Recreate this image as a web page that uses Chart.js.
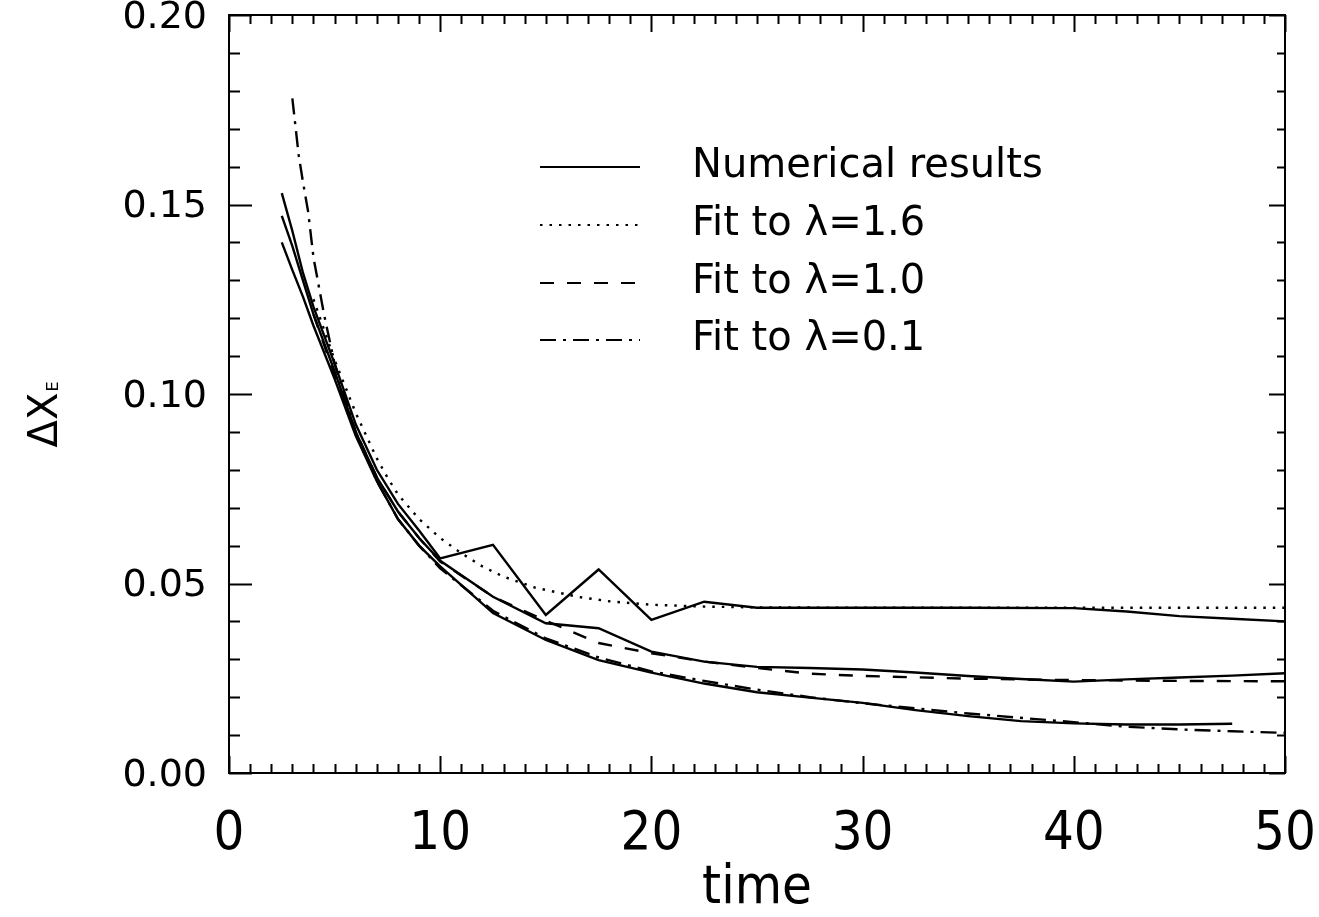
<!DOCTYPE html>
<html><head><meta charset="utf-8">
<script src="https://cdn.jsdelivr.net/npm/chart.js@4"></script>
<style>html,body{margin:0;padding:0;background:#fff}#wrap{width:1319px;height:917px}</style>
</head><body><div id="wrap"><canvas id="c" width="1319" height="917"></canvas></div>
<script>
// ---- data ----
const numTimeA = [2.5,3,3.5,4,5,6,7,8,9,10,12.5,15,17.5,20,22.5,25,30,35,40,42.5,45,47.5,50];
const numValA  = [0.153,0.143,0.132,0.123,0.108,0.092,0.080,0.071,0.064,0.0566,0.0602,0.0417,0.0537,0.0404,0.0452,0.0436,0.0436,0.0436,0.0435,0.0426,0.0414,0.0407,0.0400];

const numTimeB = [2.5,3,3.5,4,5,6,7,8,9,10,12.5,15,17.5,20,22.5,25,27.5,30,32.5,35,37.5,40,42.5,45,47.5,50];
const numValB  = [0.147,0.139,0.130,0.121,0.106,0.090,0.078,0.069,0.062,0.0560,0.0465,0.0395,0.0382,0.0320,0.0294,0.0280,0.0277,0.0273,0.0265,0.0256,0.0248,0.0241,0.0247,0.0252,0.0257,0.0263];

const numTimeC = [2.5,3,3.5,4,5,6,7,8,9,10,12.5,15,17.5,20,22.5,25,27.5,30,32.5,35,37.5,40,42.5,45,47.5];
const numValC  = [0.140,0.1327,0.1257,0.118,0.104,0.089,0.077,0.067,0.060,0.0545,0.0422,0.0351,0.0298,0.0265,0.0236,0.0213,0.0199,0.0185,0.0166,0.0150,0.0137,0.0131,0.0128,0.0128,0.0130];

const fit16Time = [4,5,6,7,7.5,8,9,10,11,12,13,14.5,16.5,18,20,22.5,25,30,40,50];
const fit16Val  = [0.125,0.109,0.095,0.083,0.078,0.0735,0.067,0.062,0.058,0.0545,0.0518,0.0489,0.0465,0.0453,0.0444,0.0439,0.0437,0.0436,0.0436,0.0436];

const fit10Time = [4,5,6,7,8,9,10,12.5,15,17.5,20,22.5,25,27.5,30,35,40,45,50];
const fit10Val  = [0.121,0.105,0.090,0.078,0.069,0.062,0.0558,0.0465,0.0402,0.0343,0.0316,0.0294,0.0277,0.0262,0.0256,0.0249,0.0245,0.0243,0.0242];

const fit01Time = [3,3.3,3.5,3.75,4,4.5,5,6,7,8,9,10,12.5,15,17.5,20,22.5,25,27.5,30,35,40,42.5,45,47.5,50];
const fit01Val  = [0.178,0.163,0.156,0.148,0.136,0.121,0.108,0.090,0.077,0.067,0.060,0.054,0.0428,0.0355,0.0305,0.0268,0.0243,0.0220,0.0200,0.0184,0.0157,0.0134,0.0122,0.0115,0.0110,0.0106];

const legendLabels = ['Numerical results','Fit to \u03bb=1.6','Fit to \u03bb=1.0','Fit to \u03bb=0.1'];
const xTickValues = [0,10,20,30,40,50];
const xTickLabels = ['0','10','20','30','40','50'];
const yTickValues = [0,0.05,0.10,0.15,0.20];
const yTickLabels = ['0.00','0.05','0.10','0.15','0.20'];
const xTitle = 'time';
const yTitleMain = '\u0394X';
const yTitleSub = 'E';

// ---- styles ----
const DASH_SOLID = [];
const DASH_DOT = [2.5, 7];
const DASH_DASH = [14, 13];
const DASH_DASHDOT = [16, 7, 3, 7];
const legendDashes = [DASH_SOLID, DASH_DOT, DASH_DASH, DASH_DASHDOT];

function pts(t, v){ return t.map((x,i)=>({x:x, y:v[i]})); }
function ds(label, t, v, dash){
  return {label, data: pts(t,v), showLine:true, borderColor:'#000', borderWidth:2.4,
          borderDash:dash, pointRadius:0, fill:false, tension:0};
}

const tickFontY = {family:"'DejaVu Sans', sans-serif", size:38};
const tickFontX = {family:"'Liberation Sans Narrow','DejaVu Sans Condensed','Liberation Sans', sans-serif", size:54};

const framePlugin = {
  id:'frame',
  afterDatasetsDraw(chart){
    const {ctx, chartArea:a, scales:{x,y}} = chart;
    ctx.save();
    ctx.strokeStyle='#000'; ctx.lineWidth=2; ctx.setLineDash([]);
    ctx.strokeRect(a.left, a.top, a.right-a.left, a.bottom-a.top);
    ctx.beginPath();
    for (let t=0; t<=50; t+=1){
      const px = Math.round(x.getPixelForValue(t))+0.5;
      const major = t%10===0;
      ctx.moveTo(px, a.bottom); ctx.lineTo(px, a.bottom-(major?17:9));
      ctx.moveTo(px, a.top); ctx.lineTo(px, a.top+(major?17:9));
    }
    for (let k=0; k<=20; k++){
      const py = Math.round(y.getPixelForValue(k*0.01))+0.5;
      const major = k%5===0;
      ctx.moveTo(a.left, py); ctx.lineTo(a.left+(major?23:11), py);
      ctx.moveTo(a.right, py); ctx.lineTo(a.right-(major?16:8), py);
    }
    ctx.stroke();
    ctx.restore();
  },
  afterDraw(chart){
    const {ctx, chartArea:a} = chart;
    ctx.save();
    ctx.fillStyle='#000';
    // legend
    const ys=[167,225,283,340];
    ctx.font = "40px 'DejaVu Sans', sans-serif";
    ctx.textBaseline='middle'; ctx.textAlign='left';
    for (let i=0;i<4;i++){
      ctx.beginPath(); ctx.setLineDash(legendDashes[i]); ctx.lineWidth=2.2;
      ctx.moveTo(540, ys[i]); ctx.lineTo(640, ys[i]); ctx.stroke();
      ctx.fillText(legendLabels[i], 692, ys[i]);
    }
    ctx.setLineDash([]);
    // x title
    ctx.font = "54px 'Liberation Sans Narrow','DejaVu Sans Condensed','Liberation Sans', sans-serif";
    ctx.textAlign='center'; ctx.textBaseline='alphabetic';
    ctx.fillText(xTitle, (a.left+a.right)/2, 903);
    // y title rotated
    ctx.translate(57, 420); ctx.rotate(-Math.PI/2);
    ctx.font = "40px 'DejaVu Sans', sans-serif";
    ctx.textAlign='center'; ctx.textBaseline='alphabetic';
    ctx.fillText(yTitleMain, 0, 0);
    const w = ctx.measureText(yTitleMain).width;
    ctx.font = "16px 'DejaVu Sans', sans-serif"; ctx.textAlign='left';
    ctx.fillText(yTitleSub, w/2+1, 1);
    ctx.restore();
  }
};

new Chart(document.getElementById('c'), {
  type:'scatter',
  data:{datasets:[
    ds(legendLabels[0], numTimeA, numValA, DASH_SOLID),
    ds(legendLabels[0], numTimeB, numValB, DASH_SOLID),
    ds(legendLabels[0], numTimeC, numValC, DASH_SOLID),
    ds(legendLabels[1], fit16Time, fit16Val, DASH_DOT),
    ds(legendLabels[2], fit10Time, fit10Val, DASH_DASH),
    ds(legendLabels[3], fit01Time, fit01Val, DASH_DASHDOT)
  ]},
  options:{
    responsive:false, animation:false, devicePixelRatio:1,
    layout:{padding:{top:15, right:34, left:0, bottom:0}},
    plugins:{legend:{display:false}, tooltip:{enabled:false}},
    scales:{
      x:{type:'linear', min:0, max:50,
         afterBuildTicks: s => { s.ticks = xTickValues.map(v=>({value:v})); },
         ticks:{font:tickFontX, color:'#000', padding:30, maxRotation:0, autoSkip:false,
                callback:(v,i)=>xTickLabels[i]},
         grid:{display:false, drawTicks:false}, border:{display:false},
         afterFit: s => { s.height = 144; s.paddingLeft=0; s.paddingRight=0; }},
      y:{type:'linear', min:0, max:0.2,
         afterBuildTicks: s => { s.ticks = yTickValues.map(v=>({value:v})); },
         ticks:{font:tickFontY, color:'#000', padding:22, autoSkip:false, labelOffset:3,
                callback:(v,i)=>yTickLabels[i]},
         grid:{display:false, drawTicks:false}, border:{display:false},
         afterFit: s => { s.width = 229; s.paddingTop=0; s.paddingBottom=0; }}
    }
  },
  plugins:[framePlugin]
});
</script></body></html>
